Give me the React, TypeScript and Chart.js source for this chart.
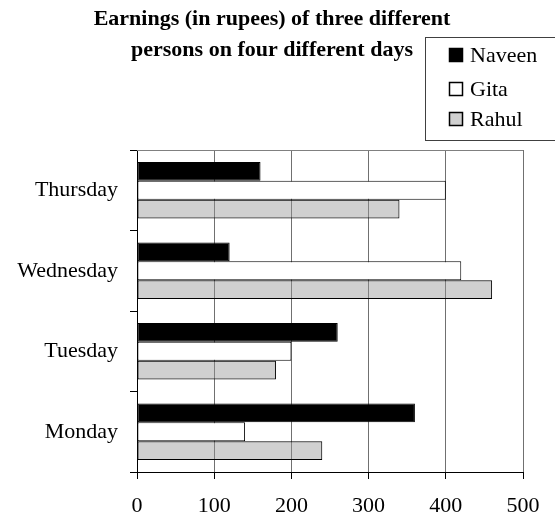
import React, { useEffect, useRef } from 'react';
import { Chart, registerables } from 'chart.js';

Chart.register(...registerables);

const days = ['Thursday', 'Wednesday', 'Tuesday', 'Monday'];
const naveen = [160, 120, 260, 360];
const gita = [400, 420, 200, 140];
const rahul = [340, 460, 180, 240];
const seriesNames = ['Naveen', 'Gita', 'Rahul'];
const xMin = 0;
const xMax = 500;
const xStep = 100;
const titleLines = ['Earnings (in rupees) of three different', 'persons on four different days'];

const SERIF = '"Liberation Serif", "Times New Roman", serif';

const decorPlugin = {
  id: 'decor',
  afterDraw(chart: any) {
    const ctx = chart.ctx as CanvasRenderingContext2D;
    const { left, right, top } = chart.chartArea;
    ctx.save();
    // top border of plot area
    ctx.strokeStyle = '#808080';
    ctx.lineWidth = 1;
    ctx.beginPath();
    ctx.moveTo(left, Math.round(top) + 0.5);
    ctx.lineTo(right, Math.round(top) + 0.5);
    ctx.stroke();

    // title
    ctx.fillStyle = '#000';
    ctx.font = `bold 22px ${SERIF}`;
    ctx.textAlign = 'center';
    ctx.textBaseline = 'alphabetic';
    ctx.fillText(titleLines[0], 272, 25);
    ctx.fillText(titleLines[1], 272, 56);

    // legend
    ctx.strokeStyle = '#404040';
    ctx.lineWidth = 1;
    ctx.fillStyle = '#fff';
    ctx.fillRect(425.5, 37.5, 140, 103);
    ctx.strokeRect(425.5, 37.5, 140, 103);
    const baselines = [62, 96, 126];
    ctx.font = `22px ${SERIF}`;
    ctx.textAlign = 'left';
    chart.data.datasets.forEach((ds: any, i: number) => {
      const b = baselines[i];
      ctx.fillStyle = '#fff';
      ctx.fillRect(449.5, b - 13.5, 13, 13);
      ctx.fillStyle = ds.backgroundColor;
      ctx.fillRect(449.5, b - 13.5, 13, 13);
      ctx.strokeStyle = '#000';
      ctx.lineWidth = 1.5;
      ctx.strokeRect(449.5, b - 13.5, 13, 13);
      ctx.fillStyle = '#000';
      ctx.fillText(ds.label, 470, b);
    });
    ctx.restore();
  },
};

export default function App() {
  const ref = useRef<HTMLCanvasElement>(null);
  useEffect(() => {
    Chart.defaults.font.family = SERIF;
    Chart.defaults.color = '#000';
    const chart = new Chart(ref.current!, {
      type: 'bar',
      data: {
        labels: days,
        datasets: [
          { label: seriesNames[0], data: naveen, backgroundColor: '#000000', borderColor: '#000', borderWidth: 1, borderSkipped: false },
          { label: seriesNames[1], data: gita, backgroundColor: '#ffffff', borderColor: '#000', borderWidth: 1, borderSkipped: false },
          { label: seriesNames[2], data: rahul, backgroundColor: 'rgba(150,150,150,0.45)', borderColor: '#000', borderWidth: 1, borderSkipped: false },
        ],
      },
      options: {
        indexAxis: 'y',
        responsive: false,
        animation: false,
        events: [],
        categoryPercentage: 0.7,
        barPercentage: 1.0,
        layout: { padding: { top: 150, right: 32, left: 0, bottom: 0 } },
        plugins: {
          legend: { display: false },
          title: { display: false },
          tooltip: { enabled: false },
        },
        scales: {
          x: {
            type: 'linear',
            min: xMin,
            max: xMax,
            ticks: { stepSize: xStep, font: { size: 22, family: SERIF }, color: '#000', padding: 14, maxRotation: 0 },
            grid: { color: '#707070', lineWidth: 1, tickColor: '#000', tickLength: 7, drawTicks: true },
            border: { display: true, color: '#000', width: 1 },
            afterFit(scale: any) { scale.height = 45; },
          },
          y: {
            type: 'category',
            ticks: { font: { size: 22, family: SERIF }, color: '#000', padding: 12 },
            grid: { drawOnChartArea: false, offset: true, tickColor: '#000', tickLength: 7 },
            border: { display: true, color: '#000', width: 1 },
            afterFit(scale: any) { scale.width = 137; },
          },
        },
      } as any,
      plugins: [decorPlugin],
    });
    return () => chart.destroy();
  }, []);
  return (
    <div style={{ position: 'absolute', left: 0, top: 0, width: 555, height: 517, background: '#fff', overflow: 'hidden' }}>
      <canvas ref={ref} width={555} height={517} style={{ display: 'block' }} />
    </div>
  );
}
